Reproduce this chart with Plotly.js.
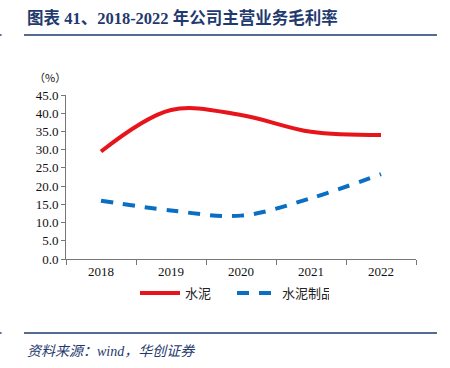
<!DOCTYPE html>
<html><head><meta charset="utf-8">
<script src="https://cdn.plot.ly/plotly-3.0.1.min.js"></script>
<style>html,body{margin:0;padding:0;background:#fff}#c{width:450px;height:368px}</style>
</head><body><div id="c"></div>
<script>
const years = ['2018','2019','2020','2021','2022'];
const cement = [29.5, 40.9, 39.5, 34.9, 34.0];
const cementProducts = [16.0, 13.3, 11.9, 16.7, 23.3];
const yTicks = [0,5,10,15,20,25,30,35,40,45];
const yTickText = yTicks.map(v => v.toFixed(1));

const L = 66, R = 416, T = 95, B = 259;
const px = x => (x - L) / (R - L);
const py = y => (B - y) / (B - T);
const navy = '#1F3A6E';

const traces = [
  {x: years, y: cement, name: '水泥', type: 'scatter', mode: 'lines',
   line: {color: '#E8141C', width: 4, shape: 'spline', smoothing: 1}},
  {x: years, y: cementProducts, name: '水泥制品', type: 'scatter', mode: 'lines',
   line: {color: '#0A6FC2', width: 4, shape: 'spline', smoothing: 1, dash: '12px,10px'}}
];

const layout = {
  width: 450, height: 368,
  margin: {l: L, r: 450 - R, t: T, b: 368 - B},
  paper_bgcolor: '#fff', plot_bgcolor: '#fff',
  showlegend: true,
  legend: {orientation: 'h', x: px(135), xanchor: 'left', y: py(293), yanchor: 'middle',
           font: {family: 'Noto Sans CJK SC', size: 13, color: '#222'}, itemwidth: 40,
           entrywidth: 42, tracegroupgap: 0, bgcolor: 'rgba(0,0,0,0)'},
  xaxis: {type: 'category', range: [-0.5, 4.5], tickson: 'boundaries', ticks: 'outside', ticklen: 5,
          tickcolor: '#777', showline: true, linecolor: '#777', linewidth: 1,
          showgrid: false, zeroline: false, fixedrange: true,
          tickfont: {family: 'Liberation Serif', size: 13, color: '#111'}},
  yaxis: {range: [0, 45], tickvals: yTicks, ticktext: yTickText, ticks: 'outside', ticklen: 4,
          tickcolor: '#777', showline: true, linecolor: '#777', linewidth: 1,
          showgrid: false, zeroline: false, fixedrange: true,
          tickfont: {family: 'Liberation Serif', size: 13, color: '#111'}},
  shapes: [
    {type: 'line', xref: 'paper', yref: 'paper', x0: px(24), x1: px(437), y0: py(35), y1: py(35),
     line: {color: navy, width: 1.5}},
    {type: 'line', xref: 'paper', yref: 'paper', x0: px(24), x1: px(437), y0: py(333), y1: py(333),
     line: {color: navy, width: 1.5}},
    {type: 'line', xref: 'paper', yref: 'paper', x0: px(0), x1: px(1.5), y0: py(35), y1: py(35),
     line: {color: navy, width: 1.5}},
    {type: 'line', xref: 'paper', yref: 'paper', x0: px(0), x1: px(1.5), y0: py(333), y1: py(333),
     line: {color: navy, width: 1.5}}
  ],
  annotations: [
    {text: '<b>图表 41、2018-2022 年公司主营业务毛利率</b>', xref: 'paper', yref: 'paper',
     x: px(25), y: py(18), xanchor: 'left', yanchor: 'middle', showarrow: false,
     font: {family: 'Liberation Serif, Noto Sans CJK SC', size: 16.5, color: navy}},
    {text: '（%）', xref: 'paper', yref: 'paper', x: px(50), y: py(77), xanchor: 'center',
     yanchor: 'middle', showarrow: false,
     font: {family: 'Noto Sans CJK SC', size: 11, color: '#111'}},
    {text: '<i>资料来源：wind，华创证券</i>', xref: 'paper', yref: 'paper',
     x: px(25), y: py(351), xanchor: 'left', yanchor: 'middle', showarrow: false,
     font: {family: 'Liberation Serif, Noto Sans CJK SC', size: 14, color: navy}}
  ]
};

Plotly.newPlot('c', traces, layout, {staticPlot: true, displayModeBar: false});
</script></body></html>
